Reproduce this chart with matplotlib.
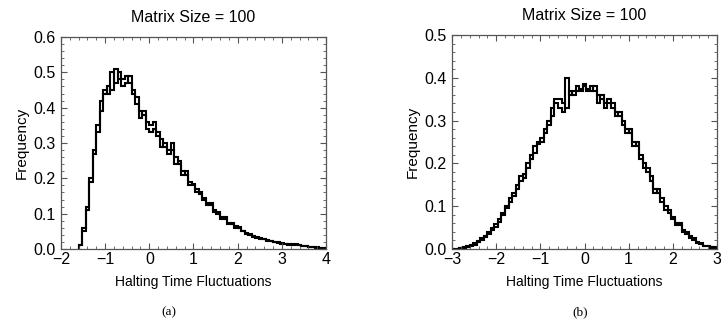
import numpy as np
import matplotlib.pyplot as plt
from matplotlib.ticker import MultipleLocator, FormatStrFormatter

plt.rcParams['font.family'] = ['Liberation Sans', 'DejaVu Sans']

# panel (a): skewed distribution, bins of width 0.08 from -1.6 to 4.0
edges_a = np.round(np.linspace(-1.6, 4.0, 71), 3)
freq_a1 = [0.01, 0.05, 0.11, 0.19, 0.27, 0.33, 0.42, 0.45, 0.44, 0.50,
           0.47, 0.50, 0.48, 0.49, 0.47, 0.45, 0.41, 0.39, 0.38, 0.36,
           0.35, 0.36, 0.32, 0.31, 0.29, 0.28, 0.30, 0.26, 0.24, 0.22,
           0.21, 0.19, 0.18, 0.17, 0.16, 0.14, 0.13, 0.125, 0.11, 0.10,
           0.09, 0.085, 0.075, 0.07, 0.065, 0.06, 0.05, 0.045, 0.04, 0.036,
           0.032, 0.03, 0.027, 0.026, 0.022, 0.02, 0.018, 0.016, 0.014, 0.013,
           0.012, 0.014, 0.011, 0.009, 0.008, 0.007, 0.005, 0.005, 0.004, 0.003]
freq_a2 = [0.01, 0.06, 0.12, 0.20, 0.28, 0.35, 0.39, 0.44, 0.46, 0.45,
           0.51, 0.48, 0.46, 0.47, 0.49, 0.44, 0.43, 0.37, 0.39, 0.34,
           0.33, 0.34, 0.33, 0.29, 0.30, 0.27, 0.28, 0.24, 0.25, 0.21,
           0.22, 0.18, 0.185, 0.16, 0.155, 0.145, 0.125, 0.13, 0.105, 0.105,
           0.085, 0.09, 0.07, 0.075, 0.06, 0.062, 0.052, 0.043, 0.042, 0.034,
           0.034, 0.028, 0.029, 0.023, 0.024, 0.019, 0.019, 0.015, 0.015, 0.012,
           0.013, 0.011, 0.012, 0.008, 0.009, 0.006, 0.006, 0.004, 0.004, 0.002]

# panel (b): near-symmetric distribution, bins of width 0.08 from -3 to 3
edges_b = np.round(np.linspace(-3.0, 3.0, 76), 3)
freq_b1 = [0.001, 0.001, 0.002, 0.003, 0.005, 0.007, 0.010, 0.016, 0.020, 0.030,
           0.034, 0.045, 0.058, 0.062, 0.085, 0.095, 0.11, 0.13, 0.14, 0.16,
           0.175, 0.19, 0.21, 0.24, 0.245, 0.25, 0.27, 0.29, 0.33, 0.34,
           0.33, 0.32, 0.40, 0.36, 0.37, 0.37, 0.375, 0.38, 0.37, 0.38,
           0.37, 0.36, 0.35, 0.34, 0.34, 0.33, 0.32, 0.31, 0.29, 0.28,
           0.27, 0.25, 0.24, 0.21, 0.20, 0.18, 0.16, 0.14, 0.13, 0.11,
           0.10, 0.085, 0.07, 0.06, 0.055, 0.045, 0.036, 0.030, 0.022, 0.016,
           0.012, 0.008, 0.006, 0.004, 0.002]
freq_b2 = [0.000, 0.001, 0.002, 0.004, 0.006, 0.009, 0.013, 0.018, 0.026, 0.028,
           0.040, 0.050, 0.052, 0.070, 0.080, 0.10, 0.12, 0.125, 0.15, 0.17,
           0.165, 0.20, 0.22, 0.225, 0.25, 0.26, 0.28, 0.30, 0.31, 0.35,
           0.35, 0.34, 0.33, 0.37, 0.36, 0.38, 0.37, 0.385, 0.375, 0.37,
           0.38, 0.34, 0.36, 0.33, 0.35, 0.34, 0.31, 0.32, 0.30, 0.27,
           0.28, 0.24, 0.25, 0.22, 0.19, 0.19, 0.17, 0.13, 0.14, 0.12,
           0.09, 0.09, 0.075, 0.055, 0.06, 0.04, 0.04, 0.026, 0.025, 0.014,
           0.014, 0.007, 0.007, 0.003, 0.004]

fig = plt.figure(figsize=(7.22, 3.29), dpi=100)
ax_a = fig.add_axes([61 / 722, 80 / 329, 265 / 722, 212 / 329])
ax_b = fig.add_axes([452 / 722, 80 / 329, 265 / 722, 214 / 329])

panels = [
    (ax_a, edges_a, [freq_a1, freq_a2], (-2, 4), 0.6, '(a)', 169),
    (ax_b, edges_b, [freq_b1, freq_b2], (-3, 3), 0.5, '(b)', 580),
]

for ax, edges, series, xlim, ytop, tag, tx in panels:
    for vals in series:
        ax.stairs(vals, edges, color='black', lw=1.5)
    ax.set_xlim(*xlim)
    ax.set_ylim(0, ytop)
    ax.xaxis.set_major_locator(MultipleLocator(1))
    ax.xaxis.set_minor_locator(MultipleLocator(0.2))
    ax.yaxis.set_major_locator(MultipleLocator(0.1))
    ax.yaxis.set_minor_locator(MultipleLocator(0.02))
    ax.yaxis.set_major_formatter(FormatStrFormatter('%.1f'))
    ax.tick_params(which='both', direction='in', top=True, right=True,
                   color='#555555', labelsize=11.5)
    ax.tick_params(axis='x', pad=2)
    ax.tick_params(axis='y', pad=4)
    ax.tick_params(which='major', length=4, width=0.8)
    ax.tick_params(which='minor', length=2, width=0.6)
    for s in ax.spines.values():
        s.set_color('#555555')
        s.set_linewidth(0.9)
    ax.set_title('Matrix Size = 100', fontsize=11.5, pad=11)
    ax.set_xlabel('Halting Time Fluctuations', fontsize=10, labelpad=6)
    ax.set_ylabel('Frequency', fontsize=11, labelpad=3)
    fig.text(tx / 722, 1 - 312 / 329, tag, ha='center', va='center',
             fontsize=9.5, family=['Liberation Serif', 'DejaVu Serif'])

fig.savefig('out.png', dpi=100)
